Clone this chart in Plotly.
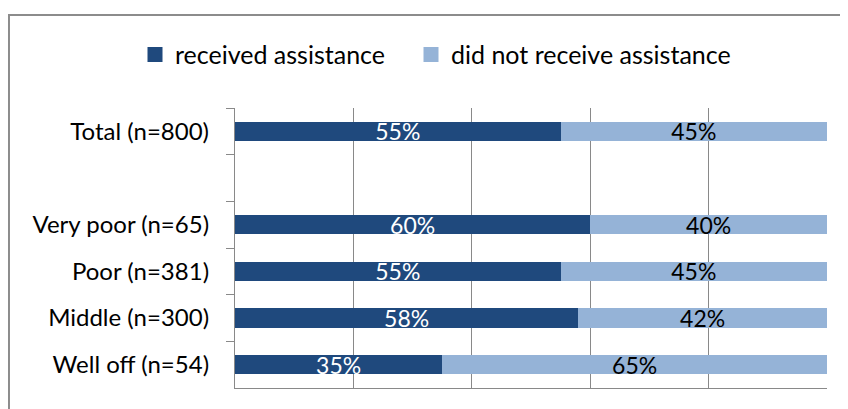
import plotly.graph_objects as go

categories = ["Total (n=800)", " ", "Very poor (n=65)", "Poor (n=381)", "Middle (n=300)", "Well off (n=54)"]
received = [55, None, 60, 55, 58, 35]
not_received = [45, None, 40, 45, 42, 65]
series_names = ["received assistance", "did not receive assistance"]

DARK = "#1F497D"
LIGHT = "#95B3D7"
GRID = "#898989"
FONT = "Lato, Carlito, Calibri, sans-serif"

def labels(vals):
    return [f"{v}%" if v is not None else "" for v in vals]

fig = go.Figure()
fig.add_trace(go.Bar(
    y=categories, x=received, orientation="h", name=series_names[0], showlegend=False,
    marker=dict(color=DARK, line=dict(width=0)),
    text=labels(received), textposition="inside", insidetextanchor="middle", constraintext="none",
    textfont=dict(color="white", size=23, family=FONT),
))
fig.add_trace(go.Bar(
    y=categories, x=not_received, orientation="h", name=series_names[1], showlegend=False,
    marker=dict(color=LIGHT, line=dict(width=0)),
    text=labels(not_received), textposition="inside", insidetextanchor="middle", constraintext="none",
    textfont=dict(color="black", size=23, family=FONT),
))
# legend entries (square swatches), one legend per entry for exact placement
for name, col, leg in zip(series_names, [DARK, LIGHT], ["legend", "legend2"]):
    fig.add_trace(go.Scatter(x=[None], y=[None], mode="markers", name=name, legend=leg,
                             marker=dict(symbol="square", size=15, color=col), showlegend=True))

leg_common = dict(orientation="h", xanchor="left", y=1.19, yanchor="middle",
                  font=dict(size=25), itemwidth=30, bgcolor="rgba(0,0,0,0)")
fig.update_layout(
    barmode="stack", bargap=0.59,
    width=840, height=401,
    margin=dict(l=227, r=21, t=100, b=21),
    paper_bgcolor="white", plot_bgcolor="white",
    font=dict(family=FONT, size=24, color="black"),
    legend=dict(x=(135 - 235) / 592, **leg_common),
    legend2=dict(x=(411 - 235) / 592, **leg_common),
)
fig.update_xaxes(range=[0, 100], dtick=20, showgrid=True, gridcolor=GRID, gridwidth=1.3,
                 showticklabels=False, zeroline=False, showline=True, linecolor=GRID, linewidth=1.3,
                 mirror=False, ticks="")
fig.update_yaxes(type="category", categoryorder="array", categoryarray=categories,
                 autorange="reversed", tickson="boundaries", ticks="outside", ticklen=8,
                 tickcolor=GRID, tickwidth=1.3, showline=True, linecolor=GRID, linewidth=1.3,
                 showgrid=False, ticklabelstandoff=20)

fig.add_shape(type="rect", xref="paper", yref="paper", x0=-0.3818, x1=1.2, y0=-0.3, y1=1.332,
              line=dict(color="#8C8C8C", width=2), fillcolor="rgba(0,0,0,0)", layer="below")

fig.write_html("out.html")
